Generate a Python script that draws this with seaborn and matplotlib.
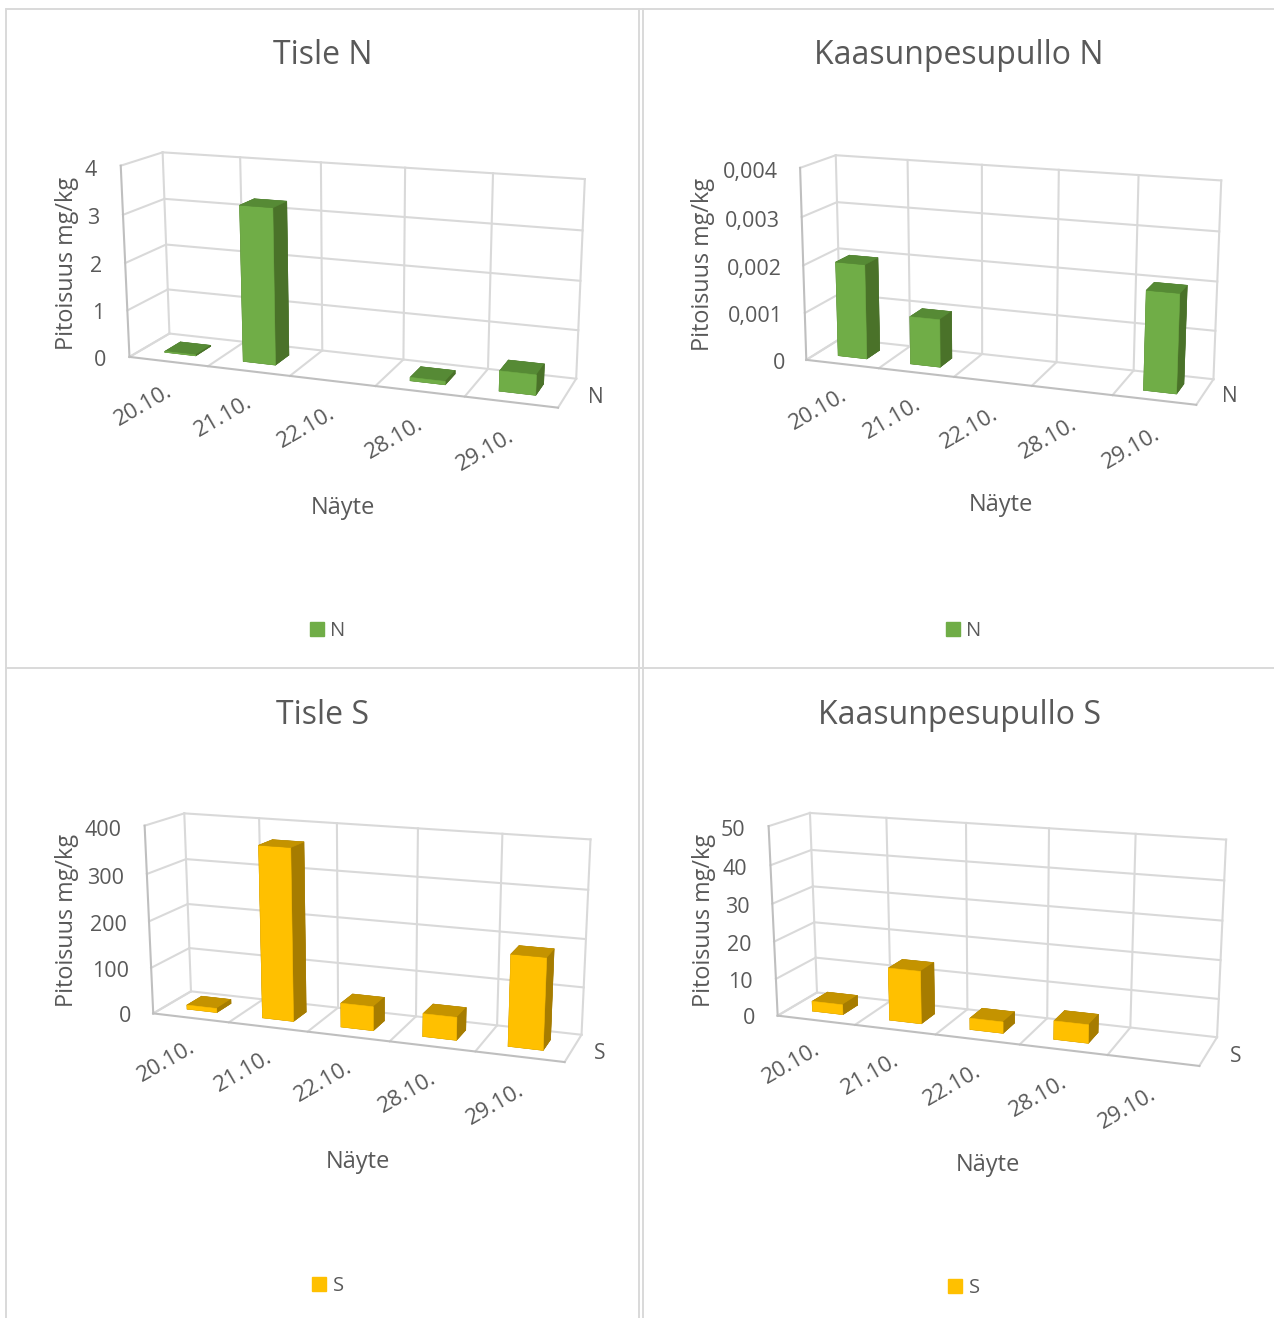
import numpy as np
import matplotlib
matplotlib.use("Agg")
import matplotlib.pyplot as plt
from matplotlib.lines import Line2D
from matplotlib.patches import Patch
import seaborn as sns

W, H = 1274, 1318

# Chart content
dates = ["20.10.", "21.10.", "22.10.", "28.10.", "29.10."]
titles = ["Tisle N", "Kaasunpesupullo N", "Tisle S", "Kaasunpesupullo S"]
series_names = ["N", "N", "S", "S"]
tisle_n = [0.02, 3.26, 0, 0.07, 0.41]
pesu_n = [0.002, 0.001, 0, 0, 0.002]
tisle_s = [9, 366, 51, 48, 188]
pesu_s = [2.7, 14, 3, 4.8, 0]
ticks_tisle_n = [0, 1, 2, 3, 4]
ticks_pesu_n = [0, 0.001, 0.002, 0.003, 0.004]
ticks_tisle_s = [0, 100, 200, 300, 400]
ticks_pesu_s = [0, 10, 20, 30, 40, 50]
tick_text_tisle_n = ["0", "1", "2", "3", "4"]
tick_text_pesu_n = ["0", "0,001", "0,002", "0,003", "0,004"]
tick_text_tisle_s = ["0", "100", "200", "300", "400"]
tick_text_pesu_s = ["0", "10", "20", "30", "40", "50"]

# Styling
sns.set_theme(style="white")
plt.rcParams["font.family"] = ["Open Sans", "DejaVu Sans"]
INK = "#595959"
GRID = "#D9D9D9"
AXIS = "#BFBFBF"
GREEN = sns.color_palette(["#70AD47", "#568A35", "#4A7229"])
AMBER = sns.color_palette(["#FFC000", "#C49300", "#A67C00"])
BAR_W, BAR_D = 0.40, 0.40

# Camera calibration of each box: (category, depth, height share) -> pixel
calibration = [
    [(0,0,1,120.7,165),(0,0,0,129,357.7),(0,1,1,163,152.7),(0,1,0,169.3,332.7),
     (5,1,1,585,179),(5,1,0,576.7,378.3),(5,0,0,557.7,408.3),
     (1,0,0,208,366),(2,0,0,291.7,376),(3,0,0,375,386),(4,0,0,464,396),
     (1,1,1,239.7,157.7),(2,1,1,321,162.5),(3,1,1,405,167.7),(4,1,1,493,173),
     (3,1,0,403,360),(4,1,0,488,369)],
    [(0,0,1,799,167.7),(0,0,0,806.7,359.3),(0,1,1,836.7,155),(0,1,0,839,340.7),
     (5,1,1,1221.7,180),(5,1,0,1214,379),(5,0,0,1195.7,406),
     (1,0,0,880,367.3),(2,0,0,954,376.7),(3,0,0,1031.7,386),(4,0,0,1112.7,395.7),
     (1,1,1,908.3,160),(3,1,1,1058,170.7),(4,1,1,1138.3,175),
     (2,1,0,982.7,352.7),(3,1,0,1056.7,361.7),(4,1,0,1133,370)],
    [(0,0,1,144,826),(0,0,0,152.3,1014),(0,1,1,185,813.3),(0,1,0,190.7,991.7),
     (5,1,1,590.7,839),(5,1,0,582.3,1035),(5,0,0,564.3,1063.3),
     (1,0,0,230,1022.3),(2,0,0,308.3,1030.7),(3,0,0,390,1040.7),(4,0,0,475,1051),
     (1,1,1,259.3,818.3),(2,1,1,336.7,822.3),(3,1,1,417.7,829),(4,1,1,502.3,834),
     (3,1,0,416,1015.7),(4,1,0,496,1025.7)],
    [(0,0,1,768.3,826),(0,0,0,777.3,1016),(0,1,1,810,813.3),(0,1,0,816.7,992),
     (5,1,1,1226,839),(5,1,0,1217.3,1037.3),(5,0,0,1199,1066),
     (1,0,0,855.7,1024.3),(2,0,0,935.7,1034.3),(3,0,0,1020,1045),(4,0,0,1107.3,1055),
     (1,1,1,886.7,818.3),(2,1,1,966,822.7),(3,1,1,1049,828.3),(4,1,1,1135.7,834),
     (3,1,0,1047.3,1018.3),(4,1,0,1130,1027.7)],
]


def solve_camera(points):
    """Least-squares 3x4 projective camera, with normalised pixel coordinates."""
    pts = np.asarray(points, float)
    uv = pts[:, 3:]
    mean = uv.mean(axis=0)
    T = np.array([[0.01, 0, -0.01 * mean[0]], [0, 0.01, -0.01 * mean[1]], [0, 0, 1]])
    rows = []
    for x, y, z, u, v in pts:
        u2, v2 = 0.01 * (u - mean[0]), 0.01 * (v - mean[1])
        X = [x, y, z, 1]
        rows.append(X + [0, 0, 0, 0] + [-u2 * c for c in X])
        rows.append([0, 0, 0, 0] + X + [-v2 * c for c in X])
    _, _, vt = np.linalg.svd(np.array(rows))
    P = vt[-1].reshape(3, 4)
    return np.linalg.inv(T) @ P


def to_pixel(P, x, y, z):
    u, v, w = P @ np.array([x, y, z, 1.0])
    return u / w, v / w


def fig_text(fig, u, v, s, **kw):
    kw.setdefault("color", INK)
    kw.setdefault("va", "center")
    kw.setdefault("ha", "center")
    fig.text(u / W, 1 - v / H, s, **kw)


def fixed_camera(ax, P, zmax, left, bottom, size):
    """Make the 3D axes use the solved camera instead of its orbit view."""
    def get_proj():
        vl = ax.viewLim
        sx = (vl.x1 - vl.x0) / size
        sy = (vl.y1 - vl.y0) / size
        A = np.array([[sx, 0, vl.x0 - left * sx],
                      [0, -sy, vl.y0 + bottom * sy],
                      [0, 0, 1]])
        Q = A @ P
        Q = Q / Q[2, 3]
        # depth keeps hidden faces behind visible ones and stays negative
        depth = np.array([-1.0, 1.0, -1.0 / zmax, 0.0]) - 10.0 * Q[2]
        return np.array([Q[0], Q[1], depth, Q[2]])
    ax.get_proj = get_proj


def draw_panel(fig, index, values, ticks, tick_text, colors, title_xy, xlabel_xy, ylabel_xy, legend_xy):
    left = 8 if index % 2 == 0 else 644
    bottom = 660 if index < 2 else 1310
    size = 630
    ax = fig.add_axes([left / W, (H - bottom) / H, size / W, size / H],
                      projection="3d", computed_zorder=False)
    ax.set_axis_off()
    ax.patch.set_alpha(0)
    zmax = ticks[-1]
    ax.set_xlim(0, 5)
    ax.set_ylim(0, 1)
    ax.set_zlim(0, zmax)

    P = solve_camera(calibration[index])
    P_data = P @ np.diag([1, 1, 1 / zmax, 1])
    fixed_camera(ax, P_data, zmax, left, bottom, size)

    def seg(xs, ys, zs, color=GRID, z=1):
        ax.plot(xs, ys, zs, color=color, lw=1.5, zorder=z, clip_on=False,
                solid_capstyle="projecting")

    # walls and floor
    for t in ticks:
        seg([0, 5], [1, 1], [t, t])
        seg([0, 0], [0, 1], [t, t])
    for k in range(6):
        seg([k, k], [1, 1], [0, zmax])
        seg([k, k], [0, 1], [0, 0])
    seg([0, 0], [0, 0], [0, zmax], AXIS, 2)
    seg([0, 5], [0, 0], [0, 0], AXIS, 2)

    # one column for each non-zero sample, front face, top and side shaded apart
    front, top, side = colors
    faces = [side, top, front, side, side, side]
    for i, val in enumerate(values):
        if val <= 0:
            continue
        col = ax.bar3d(i + 0.5 - BAR_W / 2, 0.5 - BAR_D / 2, 0, BAR_W, BAR_D, val,
                       color=faces, shade=False, linewidth=0.4, edgecolor=faces, zorder=3 + i)
        col.set_clip_on(False)

    # value axis
    for t, s in zip(ticks, tick_text):
        u, v = to_pixel(P_data, -0.30, 0, t)
        fig_text(fig, u, v + 6, s, ha="right", fontsize=15.5)
    # category axis
    for i, s in enumerate(dates):
        u, v = to_pixel(P_data, i + 0.15 + 0.022 * i, 0, -0.26 * zmax)
        fig_text(fig, u, v, s, rotation=30, rotation_mode="anchor", fontsize=16)
    # depth axis
    u, v = to_pixel(P_data, 5.30, 0.5, 0)
    fig_text(fig, u, v + 2, series_names[index], fontsize=15)

    fig_text(fig, title_xy[0] + 1, title_xy[1] + 4, titles[index], fontsize=23)
    fig_text(fig, xlabel_xy[0], xlabel_xy[1] + 2, "Näyte", fontsize=17)
    fig_text(fig, ylabel_xy[0] + 3, ylabel_xy[1], "Pitoisuus mg/kg", rotation=90, fontsize=16.8)

    fig.legend(handles=[Patch(color=front, label=series_names[index])], loc="center",
               bbox_to_anchor=(legend_xy[0] / W, 1 - legend_xy[1] / H), frameon=False,
               fontsize=14.5, handlelength=0.7, handleheight=0.7, handletextpad=0.3,
               labelcolor=INK, borderpad=0)


fig = plt.figure(figsize=(W / 100, H / 100), dpi=100, facecolor="white")

draw_panel(fig, 0, tisle_n, ticks_tisle_n, tick_text_tisle_n, GREEN, (322, 52), (343, 506), (64, 263), (327.5, 631))
draw_panel(fig, 1, pesu_n, ticks_pesu_n, tick_text_pesu_n, GREEN, (958, 52), (1001, 503), (700, 264), (963.5, 631))
draw_panel(fig, 2, tisle_s, ticks_tisle_s, tick_text_tisle_s, AMBER, (322, 712), (358, 1160), (64, 920), (328, 1286))
draw_panel(fig, 3, pesu_s, ticks_pesu_s, tick_text_pesu_s, AMBER, (958, 712), (988, 1163), (701, 920), (964, 1288))

# chart frames
frame = dict(color=GRID, lw=1.4, transform=fig.transFigure)
for x0, x1, y0, y1 in [(6, 6, 9, 1318), (639, 639, 9, 1318), (642.5, 642.5, 9, 1318),
                       (6, 1274, 667.5, 667.5), (6, 1274, 9, 9)]:
    fig.add_artist(Line2D([x0 / W, x1 / W], [1 - y0 / H, 1 - y1 / H], **frame))

fig.savefig("out.png", dpi=100, facecolor="white")
